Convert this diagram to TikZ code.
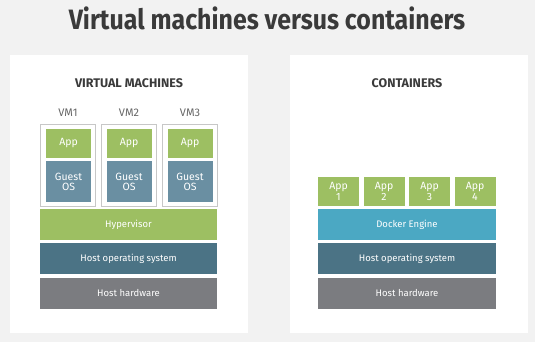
\documentclass[tikz,border=0pt]{standalone}
\usepackage{fontspec}
\setmainfont{Fira Sans}
\usetikzlibrary{positioning}
\definecolor{bggray}{HTML}{F2F2F2}
\definecolor{appgreen}{HTML}{9DBF62}
\definecolor{guestblue}{HTML}{6A8FA2}
\definecolor{hostteal}{HTML}{4B7385}
\definecolor{hwgray}{HTML}{7B7C80}
\definecolor{dockerblue}{HTML}{4BA8C3}
\definecolor{titlegray}{HTML}{3A3A3A}

\begin{document}
\begin{tikzpicture}[x=1pt, y=-1pt, node distance=3pt,
  panel/.style={fill=white, minimum width=238pt, minimum height=278pt, inner sep=0pt},
  head/.style={font=\fontsize{12.5}{14}\selectfont\bfseries, text=titlegray},
  layer/.style={minimum width=177pt, minimum height=31pt, inner sep=0pt, text=white, font=\fontsize{9.5}{11}\selectfont},
  vmbox/.style={draw=black!22, line width=0.8pt, fill=white, minimum width=55pt, minimum height=82pt, inner sep=0pt},
  vmlabel/.style={text=black!60, font=\fontsize{11}{12}\selectfont},
  small/.style={text=white, inner sep=0pt, align=center, font=\fontsize{10.5}{10.5}\selectfont},
  appbox/.style={small, fill=appgreen, minimum width=45pt, minimum height=29pt},
  guestbox/.style={small, fill=guestblue, minimum width=45pt, minimum height=41pt},
  capp/.style={small, fill=appgreen, minimum width=41pt, minimum height=29pt}]
\fill[bggray] (0,0) rectangle (535,342);
\useasboundingbox (0,0) rectangle (535,342);
\node[font=\fontsize{28}{30}\selectfont\bfseries, text=titlegray] (title) at (267,18) {\scalebox{0.89}[1]{Virtual machines versus containers}};
\node[panel] (lpanel) at (129,194) {};
\node[panel] (rpanel) at (409,194) {};
% virtual machines
\node[head] (vmhead) at (129,83) {VIRTUAL MACHINES};
\node[vmbox] (vm1) at (68,165) {};
\node[vmbox] (vm2) at (129,165) {};
\node[vmbox] (vm3) at (190,165) {};
\node[vmlabel] (vml1) at (68,113) {VM1};
\node[vmlabel] (vml2) at (129,113) {VM2};
\node[vmlabel] (vml3) at (190,113) {VM3};
\node[appbox] (app1) at (68.5,143.5) {App};
\node[appbox] (app2) at (129,143.5) {App};
\node[appbox] (app3) at (190,143.5) {App};
\node[guestbox, below=of app1] (os1) {Guest\\OS};
\node[guestbox, below=of app2] (os2) {Guest\\OS};
\node[guestbox, below=of app3] (os3) {Guest\\OS};
\node[layer, fill=appgreen] (hyp) at (128.5,224.5) {Hypervisor};
\node[layer, fill=hostteal, below=of hyp] (lhos) {Host operating system};
\node[layer, fill=hwgray, below=of lhos] (lhw) {Host hardware};
% containers
\node[head] (cthead) at (407,83) {CONTAINERS};
\node[capp] (ca1) at (338.5,191.5) {App\\1};
\node[capp] (ca2) at (384,191.5) {App\\2};
\node[capp] (ca3) at (429.5,191.5) {App\\3};
\node[capp] (ca4) at (475,191.5) {App\\4};
\node[layer, fill=dockerblue, minimum width=178pt] (dock) at (407,224.5) {Docker Engine};
\node[layer, fill=hostteal, minimum width=178pt, below=of dock] (rhos) {Host operating system};
\node[layer, fill=hwgray, minimum width=178pt, below=of rhos] (rhw) {Host hardware};
\end{tikzpicture}
\end{document}
